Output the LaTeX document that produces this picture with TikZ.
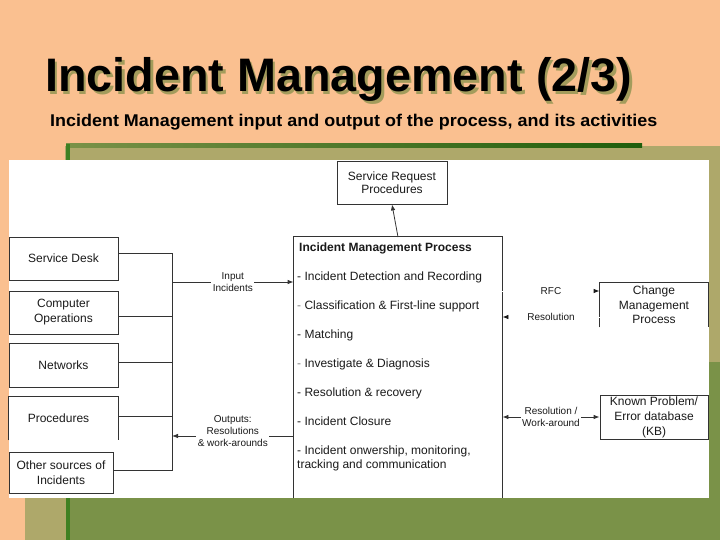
\documentclass[tikz,border=0pt]{standalone}
\usepackage{fontspec}
\setmainfont{Liberation Sans}
\usepackage{graphicx}
\usetikzlibrary{arrows.meta}
\definecolor{peach}{HTML}{FAC090}
\definecolor{khaki}{HTML}{AEA86A}
\definecolor{olivegr}{HTML}{7A9248}
\definecolor{dkgreen}{HTML}{1F5E0C}
\definecolor{vgreen}{HTML}{3F8022}
\definecolor{shadowc}{HTML}{A39C5C}
\definecolor{linec}{HTML}{333333}
\definecolor{textc}{HTML}{1A1A1A}
\newcommand{\titletext}{\resizebox{587pt}{\height}{Incident Management (2/3)}}
\begin{document}
\begin{tikzpicture}[x=1pt,y=-1pt,
  box/.style={draw=linec, line width=0.8pt, fill=white, inner sep=0pt, align=center,
    font=\fontsize{12}{15}\selectfont, text=textc},
  openbox/.style={box, draw=none},
  sides/.style={draw=linec, line width=0.8pt},
  item/.style={anchor=base west, inner sep=0pt, font=\fontsize{12}{14}\selectfont, text=textc},
  lab/.style={fill=white, inner sep=1.5pt, align=center, font=\fontsize{10}{12}\selectfont, text=textc},
  conn/.style={draw=linec, line width=0.8pt},
  arr/.style={conn, -{Latex[length=6pt,width=4.5pt]}},
  dblarr/.style={conn, {Latex[length=6pt,width=4.5pt]}-{Latex[length=6pt,width=4.5pt]}},
  ghostarr/.style={draw=white, line width=0.8pt, -{Latex[length=6pt,width=4.5pt,color=textc]}},
  titlesty/.style={anchor=base west, inner sep=0pt, font=\fontsize{47}{50}\selectfont\bfseries},
  substy/.style={anchor=base west, inner sep=0pt, font=\fontsize{17}{20}\selectfont\bfseries, text=black}
]
\useasboundingbox (0,0) rectangle (720,540);
% background
\fill[peach] (0,0) rectangle (720,540);
\fill[khaki] (65,146) rectangle (720,540);
\fill[khaki] (25,480) rectangle (65,540);
\fill[olivegr] (70,362) rectangle (720,540);
\shade[left color=olivegr, right color=dkgreen] (66,144) rectangle (642,148);
\fill[vgreen] (66,144) rectangle (70,540);
% title with shadow
\node[titlesty] (title) at (45,92) {\makebox[0pt][l]{\hspace*{2.5pt}\raisebox{-2.5pt}{\textcolor{shadowc}{\titletext}}}\textcolor{black}{\titletext}};
\node[substy] (subtitle) at (50,127) {\resizebox{607pt}{\height}{Incident Management input and output of the process, and its activities}};
% white panel
\fill[white] (9,160) rectangle (709,498);
% top box
\node[box, minimum width=110pt, minimum height=43pt, font=\fontsize{12}{13.5}\selectfont] (srp) at (392,182.5) {Service Request\\Procedures};
% process box
\node[openbox, minimum width=208pt, minimum height=261pt] (imp) at (398,367.5) {};
\draw[sides] (imp.south west) -- (imp.north west) -- (imp.north east) -- (imp.south east);
\node[item, font=\fontsize{12}{14}\selectfont\bfseries] (t0) at (299,251.5) {Incident Management Process};
\node[item] (t1) at (297,280.5) {- Incident Detection and Recording};
\node[item] (t2) at (297,309.5) {\textcolor{gray}{-} Classification \& First-line support};
\node[item] (t3) at (297,338.5) {- Matching};
\node[item] (t4) at (297,367.5) {\textcolor{gray}{-} Investigate \& Diagnosis};
\node[item] (t5) at (297,396.5) {- Resolution \& recovery};
\node[item] (t6) at (297,425.5) {- Incident Closure};
\node[item] (t7) at (297,454.5) {- Incident onwership, monitoring,};
\node[item] (t8) at (297,468.5) {tracking and communication};
\draw[arr] (imp.north |- 0,237) -- (srp.south);
% left boxes
\node[box, minimum width=109pt, minimum height=43pt] (sd) at (63.5,258.5) {Service Desk};
\node[box, minimum width=109pt, minimum height=43pt] (co) at (63.5,312.5) {Computer\\Operations};
\node[box, minimum width=109pt, minimum height=44pt] (nw) at (63.5,365) {Networks};
\node[openbox, minimum width=109pt, minimum height=43pt] (proc) at (63.5,418.5) {\hspace*{-10pt}Procedures};
\draw[sides] (proc.south west) -- (proc.north west) -- (proc.north east) -- (proc.south east);
\node[box, minimum width=104pt, minimum height=41pt] (oth) at (61,472.5) {Other sources of\\Incidents};
% bus
\coordinate (busin) at (172,282);
\coordinate (busout) at (172,436);
\draw[conn] ([yshift=5.5pt]sd.east) -| (busin);
\draw[conn] ([yshift=-3.5pt]co.east) -| (busin);
\draw[conn] ([yshift=3pt]nw.east) -| (busin);
\draw[conn] ([yshift=2.5pt]proc.east) -| (busin);
\draw[conn] ([yshift=2.5pt]oth.east) -| (busin);
\draw[arr] (busin) -- (busin -| imp.west) node[midway, lab] (lin) {Input\\Incidents};
\draw[arr] (busout -| imp.west) -- (busout) node[midway, lab, yshift=5pt] (lout) {Outputs:\\Resolutions\\\& work-arounds};
% right boxes
\node[openbox, minimum width=108pt, minimum height=44pt, font=\fontsize{12}{14.5}\selectfont] (cm) at (654,305) {Change\\Management\\Process};
\draw[sides] (cm.south west) -- (cm.north west) -- (cm.north east) -- (cm.south east);
\node[box, minimum width=108pt, minimum height=44pt] (kb) at (654,417) {Known Problem/\\Error database\\(KB)};
\draw[ghostarr] (imp.east |- 0,291) -- (cm.west |- 0,291) node[midway, lab, fill=none] (lrfc) {RFC};
\draw[ghostarr] (cm.west |- 0,317) -- (imp.east |- 0,317) node[midway, lab, fill=none] (lres) {Resolution};
\draw[dblarr] (imp.east |- kb.west) -- (kb.west) node[midway, lab] (lkb) {Resolution /\\Work-around};
\end{tikzpicture}
\end{document}
